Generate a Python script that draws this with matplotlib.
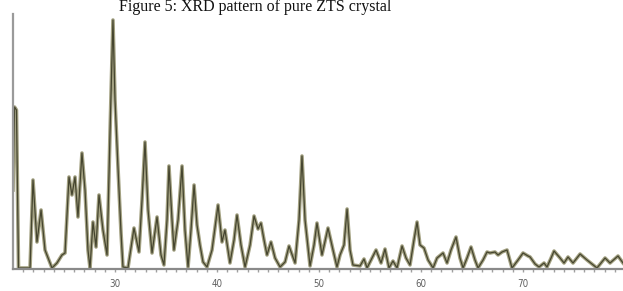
import numpy as np
import matplotlib.pyplot as plt

# XRD pattern (2-theta in degrees, intensity in arbitrary units)
two_theta = [
    20.00, 20.15, 20.34, 20.54, 21.67, 21.96, 22.35, 22.75, 23.14, 23.33,
    23.82, 24.31, 24.80, 25.10, 25.49, 25.78, 26.08, 26.37, 26.76, 27.06,
    27.35, 27.55, 27.84, 28.14, 28.43, 28.82, 29.22, 29.51, 29.80, 30.00,
    30.29, 30.59, 30.78, 31.27, 31.86, 32.35, 32.65, 32.94, 33.24, 33.63,
    34.12, 34.51, 34.80, 35.10, 35.29, 35.59, 35.78, 36.18, 36.57, 36.86,
    37.16, 37.45, 37.75, 38.04, 38.33, 38.63, 39.02, 39.51, 40.10, 40.49,
    40.78, 41.27, 41.67, 41.96, 42.35, 42.75, 43.24, 43.63, 44.02, 44.31,
    44.61, 44.90, 45.29, 45.69, 46.18, 46.67, 47.06, 47.65, 48.04, 48.33,
    48.63, 49.12, 49.51, 49.80, 50.29, 50.88, 51.37, 51.76, 52.06, 52.45,
    52.75, 53.04, 53.33, 54.02, 54.41, 54.71, 55.59, 56.08, 56.47, 56.86,
    57.25, 57.65, 58.14, 58.53, 58.92, 59.31, 59.61, 59.90, 60.29, 60.69,
    61.18, 61.57, 62.16, 62.55, 62.94, 63.43, 63.82, 64.12, 64.51, 64.90,
    65.29, 65.59, 66.08, 66.47, 66.76, 67.25, 67.55, 67.94, 68.43, 68.92,
    69.51, 70.00, 70.49, 70.69, 71.18, 71.57, 72.06, 72.35, 72.75, 73.04,
    73.63, 74.02, 74.41, 74.90, 75.59, 76.27, 76.76, 77.25, 78.04, 78.53,
    79.31, 79.80,
]
intensity = [
    78, 161, 158, 0, 0, 88, 26, 58, 18, 13,
    0, 5, 13, 15, 91, 73, 91, 51, 115, 78,
    18, 0, 46, 21, 73, 38, 13, 135, 248, 168,
    101, 35, 1, 0, 40, 16, 68, 126, 58, 15,
    51, 13, 3, 48, 102, 48, 18, 48, 102, 38,
    1, 38, 83, 43, 23, 6, 1, 18, 63, 26,
    38, 5, 28, 53, 23, 1, 23, 52, 39, 45,
    28, 13, 26, 10, 1, 6, 22, 5, 48, 112,
    48, 2, 23, 45, 13, 40, 18, 1, 13, 23,
    59, 18, 3, 2, 9, 0, 18, 5, 19, 0,
    7, 0, 22, 10, 3, 28, 46, 23, 20, 8,
    0, 10, 15, 5, 18, 31, 10, 0, 10, 21,
    8, 0, 8, 16, 15, 16, 13, 16, 18, 0,
    8, 15, 12, 11, 4, 1, 5, 1, 10, 17,
    10, 5, 11, 5, 14, 8, 4, 0, 10, 5,
    12, 5,
]
major_ticks = [30, 40, 50, 60, 70]
title = 'Figure 5: XRD pattern of pure ZTS crystal'

W, H = 623, 291
fig = plt.figure(figsize=(W / 100, H / 100), dpi=100)
ax = fig.add_axes([13 / W, 22 / H, (W - 13) / W, 255 / H])

# double-tone trace like the scanned instrument output
ax.plot(two_theta, intensity, color='#a4a283', linewidth=2.6, solid_joinstyle='round')
ax.plot(two_theta, intensity, color='#45452f', linewidth=0.9, solid_joinstyle='round')

ax.set_xlim(20, 79.8)
ax.set_ylim(-1, 254)

for s in ['top', 'right']:
    ax.spines[s].set_visible(False)
ax.spines['left'].set_color('#9a9a9a')
ax.spines['left'].set_linewidth(1.6)
ax.spines['bottom'].set_color('#8a8a8a')
ax.spines['bottom'].set_linewidth(1.6)

ax.set_yticks([])
ax.set_xticks(major_ticks)
ax.set_xticklabels([str(t) for t in major_ticks])
ax.set_xticks(np.arange(21, 80, 1), minor=True)
ax.tick_params(axis='x', which='both', direction='out', length=2, width=1,
               color='#a0a0a0', pad=5, labelsize=7, labelcolor='#606060')
for lbl in ax.get_xticklabels():
    lbl.set_fontstretch('condensed')

fig.text(255 / W, 1 - 11 / H, title, ha='center', va='baseline',
         fontsize=11.5, family='Liberation Serif', color='#111111')

fig.savefig('out.png', dpi=100)
